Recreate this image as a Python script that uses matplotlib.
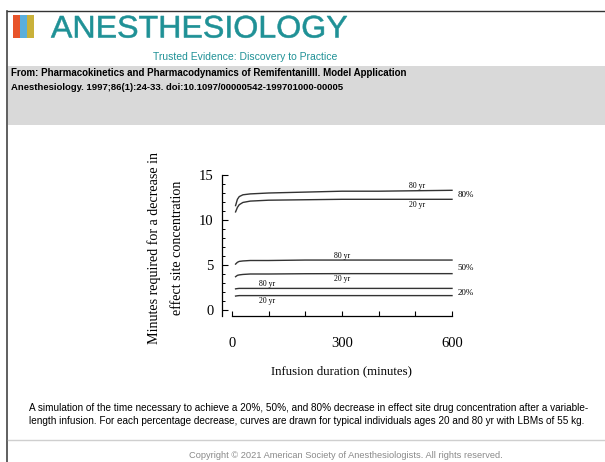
import matplotlib
matplotlib.use('Agg')
import matplotlib.pyplot as plt
import matplotlib.patches as patches
from matplotlib.textpath import TextPath
from matplotlib.font_manager import FontProperties
from matplotlib.transforms import Affine2D
from matplotlib.ticker import MultipleLocator

# Data
duration = [10, 15, 20, 30, 50, 100, 200, 300, 400, 500, 600]
dec80_80yr = [11.6, 12.3, 12.6, 12.8, 12.9, 13.0, 13.1, 13.2, 13.2, 13.25, 13.3]
dec80_20yr = [10.9, 11.4, 11.7, 11.95, 12.1, 12.2, 12.25, 12.3, 12.3, 12.3, 12.3]
dec50_80yr = [5.1, 5.3, 5.4, 5.45, 5.5, 5.5, 5.55, 5.55, 5.55, 5.55, 5.55]
dec50_20yr = [3.7, 3.85, 3.9, 3.95, 4.0, 4.0, 4.03, 4.04, 4.04, 4.04, 4.04]
dec20_80yr = [2.35, 2.38, 2.4, 2.4, 2.4, 2.4, 2.4, 2.4, 2.4, 2.4, 2.4]
dec20_20yr = [1.55, 1.58, 1.6, 1.6, 1.6, 1.6, 1.6, 1.6, 1.6, 1.6, 1.6]

curves = [dec80_80yr, dec80_20yr, dec50_80yr, dec50_20yr, dec20_80yr, dec20_20yr]
age_labels = [('80 yr', 505, 13.75), ('20 yr', 505, 11.7),
              ('80 yr', 300, 6.0), ('20 yr', 300, 3.45),
              ('80 yr', 95, 2.87), ('20 yr', 95, 1.03)]
pct_labels = [('80%', 12.8), ('50%', 4.7), ('20%', 1.85)]

teal = '#1f9196'
W, H = 605, 462
fig = plt.figure(figsize=(W / 100, H / 100), dpi=100)

# page decorations in pixel coordinates
page = fig.add_axes([0, 0, 1, 1], zorder=0)
page.set_xlim(0, W)
page.set_ylim(H, 0)
page.axis('off')

page.plot([7, W], [11, 11], color='#333333', lw=1)
page.plot([7, 7], [11, H], color='#444444', lw=1.2)
page.add_patch(patches.Rectangle((8, 66), W - 8, 59, facecolor='#d9d9d9', edgecolor='none'))
page.plot([8, W], [440, 440], color='#cfcfcf', lw=1)

# logo bars
for x0, c in [(13, '#e8542a'), (20, '#5aaedc'), (27, '#c9b13a')]:
    page.add_patch(patches.Rectangle((x0, 15), 7, 23, facecolor=c, edgecolor='none'))

# logo word, stretched to fit the box it occupies
logo_font = FontProperties(family='Liberation Sans')
tp = TextPath((0, 0), 'ANESTHESIOLOGY', size=10, prop=logo_font)
bb = tp.get_extents()
sx = (347 - 51) / bb.width
sy = 21.5 / TextPath((0, 0), 'A', size=10, prop=logo_font).get_extents().height
tr = Affine2D().translate(-bb.x0, 0).scale(sx, -sy).translate(51, 37.5)
page.add_patch(patches.PathPatch(tr.transform_path(tp), facecolor=teal, edgecolor=teal, lw=0.4))
page.text(245, 56.5, 'Trusted Evidence: Discovery to Practice', color=teal, fontsize=7.5,
          family='Liberation Sans', ha='center', va='center')

page.text(11, 73.5, 'From: Pharmacokinetics and Pharmacodynamics of Remifentanilll. Model Application',
          fontsize=7.0, fontweight='bold', family='Liberation Sans', va='center')
page.text(11, 88, 'Anesthesiology. 1997;86(1):24-33. doi:10.1097/00000542-199701000-00005',
          fontsize=6.8, fontweight='bold', family='Liberation Sans', va='center')

page.text(29, 408, 'A simulation of the time necessary to achieve a 20%, 50%, and 80% decrease in effect site '
          'drug concentration after a variable-', fontsize=7.2, family='Liberation Sans', va='center')
page.text(29, 421.5, 'length infusion. For each percentage decrease, curves are drawn for typical individuals '
          'ages 20 and 80 yr with LBMs of 55 kg.', fontsize=7.2, family='Liberation Sans', va='center')
page.text(346, 455, 'Copyright \u00a9 2021 American Society of Anesthesiologists. All rights reserved.',
          fontsize=6.7, color='#8a8a8a', family='Liberation Sans', ha='center', va='center')

# chart
ax = fig.add_axes([222 / W, 1 - 316.3 / H, 230 / W, (316.3 - 175) / H], zorder=1)
ax.set_facecolor('none')
ax.set_xlim(-27, 600)
ax.set_ylim(-0.7, 15)

for vals in curves:
    ax.plot(duration, vals, color='#333333', lw=1.0, clip_on=False)

for txt, x, y in age_labels:
    ax.text(x, y, txt, fontsize=5.6, family='Liberation Serif', ha='center', va='center')
for txt, y in pct_labels:
    ax.text(616, y, txt, fontsize=6.5, family='Liberation Serif', ha='left', va='center', clip_on=False)

for s in ['top', 'right']:
    ax.spines[s].set_visible(False)
ax.spines['bottom'].set_position(('data', -0.7))
ax.spines['bottom'].set_bounds(0, 600)
ax.spines['left'].set_bounds(-0.7, 15)
ax.spines['left'].set_linewidth(0.9)
ax.spines['bottom'].set_linewidth(0.9)

ax.set_xticks([0, 300, 600])
ax.xaxis.set_minor_locator(MultipleLocator(100))
ax.set_yticks([0, 5, 10, 15])
ax.yaxis.set_minor_locator(MultipleLocator(1))
ax.tick_params(direction='in', labelsize=10.5, width=0.8)
ax.tick_params(axis='y', which='major', length=4, pad=6)
ax.tick_params(axis='y', which='minor', length=2.5, width=0.7, direction='in')
ax.tick_params(axis='x', which='major', length=3.5, pad=15)
ax.tick_params(axis='x', which='minor', length=3.5, width=0.8, direction='in')
for lbl in ax.get_xticklabels() + ax.get_yticklabels():
    lbl.set_family('Liberation Serif')

ax.set_xlabel('Infusion duration (minutes)', family='Liberation Serif', fontsize=9.3)
ax.xaxis.set_label_coords((300 + 27) / 627, -0.345)
ax.set_ylabel('Minutes required for a decrease in\neffect site concentration',
              family='Liberation Serif', fontsize=10.1, linespacing=2.0)
ax.yaxis.set_label_coords(-0.165, 0.483)

fig.savefig('out.png', dpi=100)
